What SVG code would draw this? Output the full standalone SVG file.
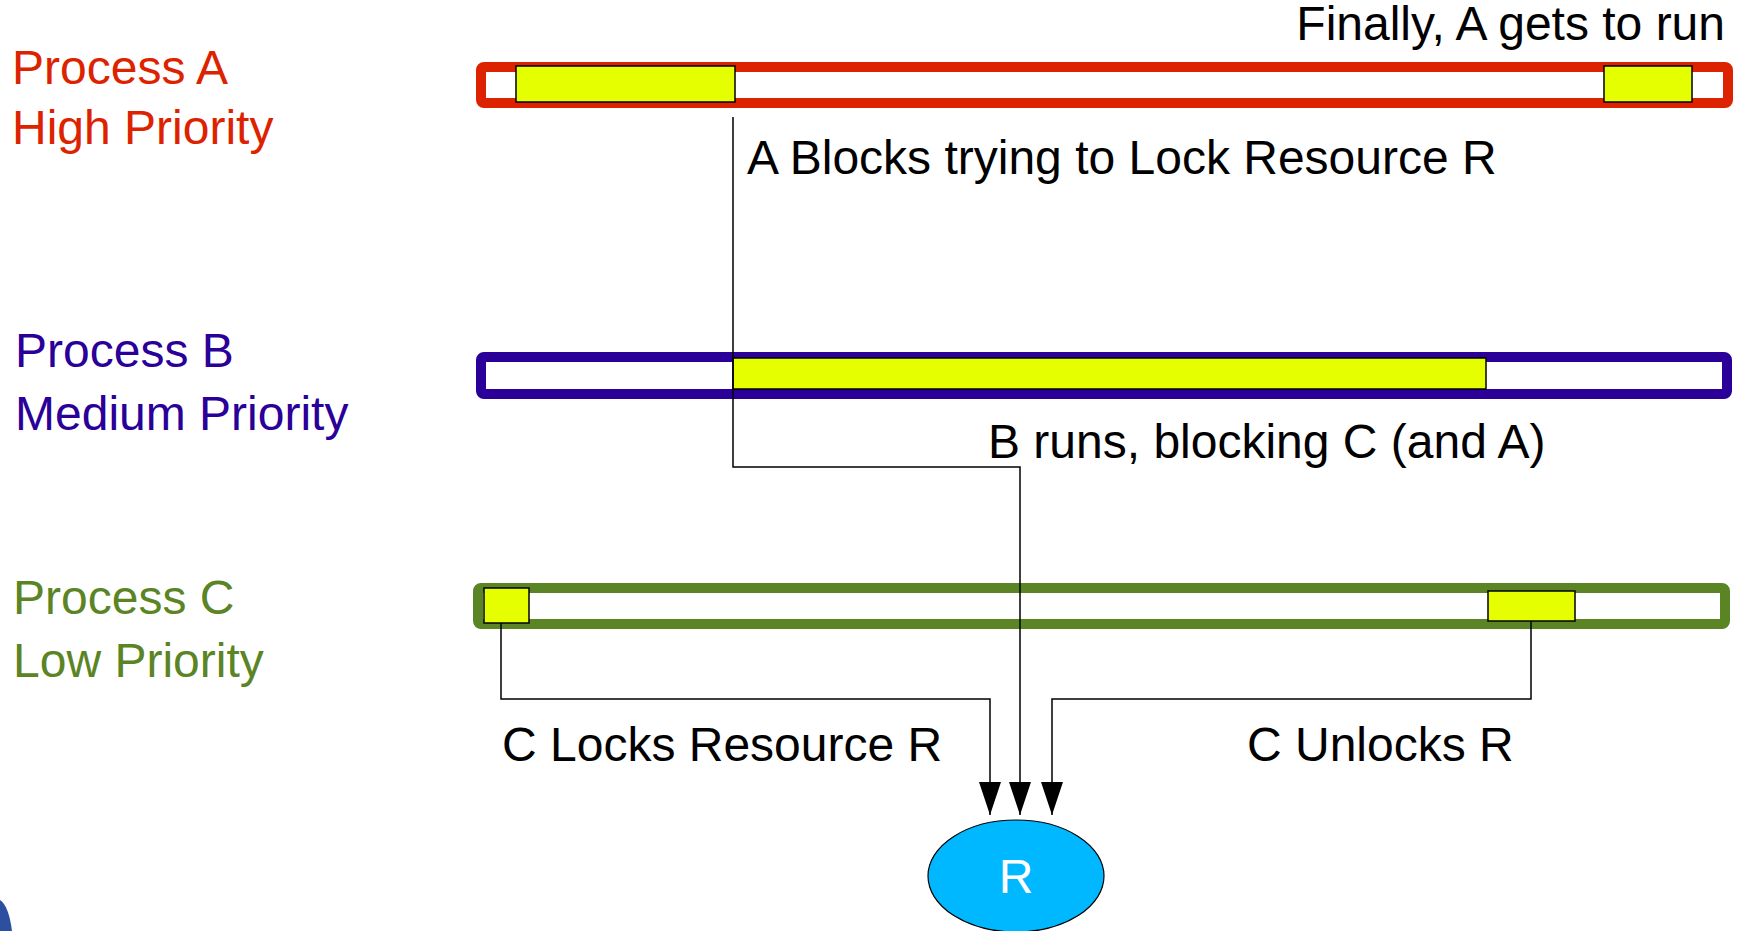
<svg xmlns="http://www.w3.org/2000/svg" width="1742" height="931" viewBox="0 0 1742 931">
<style>
text{font-family:"Liberation Sans",Arial,sans-serif;font-size:48px;fill:#000}
.bar{fill:#fff;stroke-width:10}
.run{fill:#e5ff00;stroke:#000;stroke-width:1.5}
.conn{fill:none;stroke:#000;stroke-width:1.5}
</style>
<defs>
<marker id="arr" viewBox="0 0 33 22" refX="33" refY="11" markerWidth="33" markerHeight="22" markerUnits="userSpaceOnUse" orient="auto">
<path d="M0,0 L33,11 L0,22 Z" fill="#000"/>
</marker>
</defs>
<rect width="1742" height="931" fill="#fff"/>
<g id="labels">
<text x="12" y="84" style="fill:#dd2200">Process A</text>
<text x="12" y="144" style="fill:#dd2200">High Priority</text>
<text x="15" y="367" style="fill:#2a0099">Process B</text>
<text x="15" y="430" style="fill:#2a0099">Medium Priority</text>
<text x="13" y="614" style="fill:#5b8424">Process C</text>
<text x="13" y="677" style="fill:#5b8424">Low Priority</text>
</g>
<g id="processA">
<rect class="bar" x="481" y="67" width="1247" height="36" rx="3" stroke="#dd2200"/>
<rect class="run" x="516" y="66" width="219" height="36"/>
<rect class="run" x="1604" y="66" width="88" height="36"/>
</g>
<g id="processB">
<rect class="bar" x="481" y="357" width="1246" height="37" rx="3" stroke="#2a0099"/>
<rect class="run" x="733" y="358" width="753" height="31"/>
</g>
<g id="processC">
<rect class="bar" x="478" y="588" width="1247" height="36" rx="3" stroke="#5b8424"/>
<rect class="run" x="484" y="588" width="45" height="35"/>
<rect class="run" x="1488" y="591" width="87" height="30"/>
</g>
<g id="connectors">
<path class="conn" d="M733,117 V467 H1020 V815" marker-end="url(#arr)"/>
<path class="conn" d="M501,623 V699 H990 V815" marker-end="url(#arr)"/>
<path class="conn" d="M1531,621 V699 H1052 V815" marker-end="url(#arr)"/>
</g>
<g id="annotations">
<text x="1725" y="40" text-anchor="end">Finally, A gets to run</text>
<text x="747" y="174">A Blocks trying to Lock Resource R</text>
<text x="988" y="458">B runs, blocking C (and A)</text>
<text x="502" y="761">C Locks Resource R</text>
<text x="1247" y="761">C Unlocks R</text>
</g>
<g id="resourceR">
<ellipse cx="1016" cy="876" rx="88" ry="56" fill="#00b8ff" stroke="#000" stroke-width="1.2"/>
<text x="1016" y="893" text-anchor="middle" style="fill:#fff">R</text>
</g>
<path d="M0,900 C6,904 10,915 12,931 L0,931 Z" fill="#2d4fa0"/>
</svg>
